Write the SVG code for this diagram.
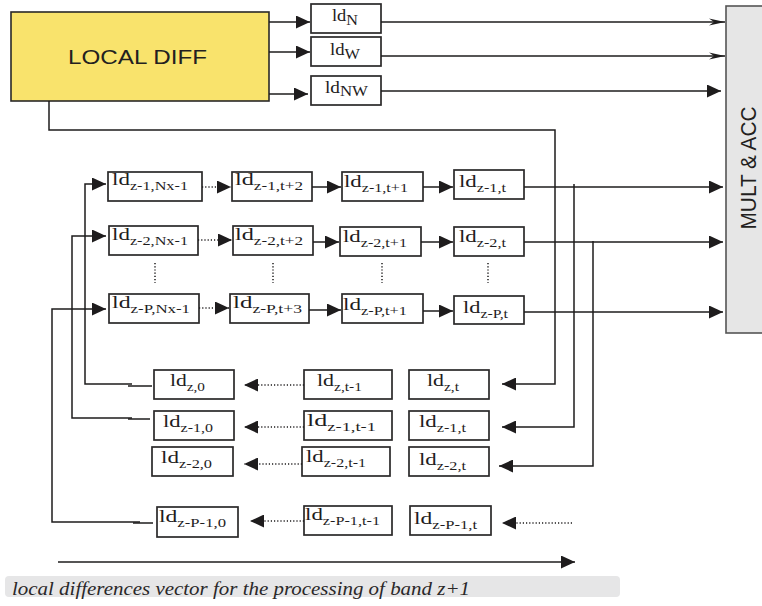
<svg xmlns="http://www.w3.org/2000/svg" width="762" height="606" viewBox="0 0 762 606">
  <defs>
    <marker id="tri" markerUnits="userSpaceOnUse" markerWidth="14" markerHeight="13" refX="14" refY="6.5" orient="auto">
      <path d="M0,0 L14,6.5 L0,13 Z" fill="#1e1c1d"/>
    </marker>
    <marker id="barb" markerUnits="userSpaceOnUse" markerWidth="16" markerHeight="8" refX="16" refY="4" orient="auto">
      <path d="M0,0.5 L16,4 L0,7.5 L5,4 Z" fill="#1e1c1d"/>
    </marker>
    <style>
      .box { fill: #ffffff; stroke: #2a2829; stroke-width: 1.7; }
      .ln { fill: none; stroke: #1e1c1d; stroke-width: 1.5; }
      .arr { marker-end: url(#tri); }
      .barb { marker-end: url(#barb); }
      .dot { stroke-dasharray: 1.2 2; }
      .ld { font-family: "Liberation Serif", "Times New Roman", serif; font-size: 17px; fill: #1e1c1d; }
      .sub { font-size: 12px; }
      .top { font-size: 16px; }
      .tsub { font-size: 14px; }
      .sans { font-family: "Liberation Sans", Arial, sans-serif; font-size: 20px; fill: #231f20; }
    </style>
  </defs>

  <rect width="762" height="606" fill="#ffffff"/>

  <!-- source and sink blocks -->
  <g id="local-diff">
    <rect x="11" y="12" width="258" height="89" fill="#f9e36c" stroke="#2a2829" stroke-width="1.6"/>
    <text class="sans" x="68" y="64" textLength="139" lengthAdjust="spacingAndGlyphs">LOCAL DIFF</text>
  </g>
  <g id="mult-acc">
    <rect x="726" y="6" width="44" height="327" fill="#e6e6e6" stroke="#555555" stroke-width="1.6"/>
    <text class="sans" text-anchor="middle" transform="translate(756,168) rotate(-90) scale(1,1.1)" textLength="123" lengthAdjust="spacingAndGlyphs">MULT &amp; ACC</text>
  </g>

  <!-- directional differences -->
  <g id="ld-n">
    <rect class="box" x="311" y="4" width="70" height="29"/>
    <text class="ld top" x="332" y="21" textLength="26" lengthAdjust="spacingAndGlyphs">ld<tspan class="tsub" dy="4">N</tspan></text>
  </g>
  <g id="ld-w">
    <rect class="box" x="311" y="37" width="70" height="29"/>
    <text class="ld top" x="330" y="55" textLength="30" lengthAdjust="spacingAndGlyphs">ld<tspan class="tsub" dy="4">W</tspan></text>
  </g>
  <g id="ld-nw">
    <rect class="box" x="311" y="76" width="70" height="29"/>
    <text class="ld top" x="325" y="93" textLength="43" lengthAdjust="spacingAndGlyphs">ld<tspan class="tsub" dy="3">NW</tspan></text>
  </g>

  <!-- central local differences, band z-1 -->
  <g id="r1-c1"><rect class="box" x="108" y="172" width="94" height="29"/>
    <text class="ld" x="112" y="185" textLength="76" lengthAdjust="spacingAndGlyphs">ld<tspan class="sub" dy="5">z-1,Nx-1</tspan></text></g>
  <g id="r1-c2"><rect class="box" x="232" y="172" width="80" height="29"/>
    <text class="ld" x="235" y="185" textLength="68" lengthAdjust="spacingAndGlyphs">ld<tspan class="sub" dy="5">z-1,t+2</tspan></text></g>
  <g id="r1-c3"><rect class="box" x="342" y="172" width="81" height="29"/>
    <text class="ld" x="344" y="187" textLength="64" lengthAdjust="spacingAndGlyphs">ld<tspan class="sub" dy="5">z-1,t+1</tspan></text></g>
  <g id="r1-c4"><rect class="box" x="454" y="170" width="70" height="29"/>
    <text class="ld" x="459" y="187" textLength="47" lengthAdjust="spacingAndGlyphs">ld<tspan class="sub" dy="5">z-1,t</tspan></text></g>

  <!-- band z-2 -->
  <g id="r2-c1"><rect class="box" x="109" y="226" width="89" height="29"/>
    <text class="ld" x="112" y="240" textLength="76" lengthAdjust="spacingAndGlyphs">ld<tspan class="sub" dy="5">z-2,Nx-1</tspan></text></g>
  <g id="r2-c2"><rect class="box" x="233" y="226" width="80" height="29"/>
    <text class="ld" x="235" y="240" textLength="68" lengthAdjust="spacingAndGlyphs">ld<tspan class="sub" dy="5">z-2,t+2</tspan></text></g>
  <g id="r2-c3"><rect class="box" x="340" y="227" width="81" height="29"/>
    <text class="ld" x="343" y="242" textLength="64" lengthAdjust="spacingAndGlyphs">ld<tspan class="sub" dy="5">z-2,t+1</tspan></text></g>
  <g id="r2-c4"><rect class="box" x="454" y="227" width="70" height="29"/>
    <text class="ld" x="459" y="242" textLength="47" lengthAdjust="spacingAndGlyphs">ld<tspan class="sub" dy="5">z-2,t</tspan></text></g>

  <!-- band z-P -->
  <g id="r3-c1"><rect class="box" x="109" y="294" width="90" height="29"/>
    <text class="ld" x="112" y="308" textLength="78" lengthAdjust="spacingAndGlyphs">ld<tspan class="sub" dy="5">z-P,Nx-1</tspan></text></g>
  <g id="r3-c2"><rect class="box" x="230" y="294" width="79" height="29"/>
    <text class="ld" x="233" y="308" textLength="69" lengthAdjust="spacingAndGlyphs">ld<tspan class="sub" dy="5">z-P,t+3</tspan></text></g>
  <g id="r3-c3"><rect class="box" x="342" y="294" width="81" height="29"/>
    <text class="ld" x="343" y="310" textLength="64" lengthAdjust="spacingAndGlyphs">ld<tspan class="sub" dy="5">z-P,t+1</tspan></text></g>
  <g id="r3-c4"><rect class="box" x="454" y="296" width="70" height="28"/>
    <text class="ld" x="463" y="313" textLength="45" lengthAdjust="spacingAndGlyphs">ld<tspan class="sub" dy="5">z-P,t</tspan></text></g>

  <!-- vector for the next band -->
  <g id="n0-c1"><rect class="box" x="154" y="370" width="80" height="29"/>
    <text class="ld" x="170" y="386" textLength="35" lengthAdjust="spacingAndGlyphs">ld<tspan class="sub" dy="5">z,0</tspan></text></g>
  <g id="n0-c2"><rect class="box" x="304" y="370" width="88" height="29"/>
    <text class="ld" x="317" y="386" textLength="45" lengthAdjust="spacingAndGlyphs">ld<tspan class="sub" dy="5">z,t-1</tspan></text></g>
  <g id="n0-c3"><rect class="box" x="409" y="370" width="80" height="29"/>
    <text class="ld" x="427" y="386" textLength="32" lengthAdjust="spacingAndGlyphs">ld<tspan class="sub" dy="5">z,t</tspan></text></g>

  <g id="n1-c1"><rect class="box" x="154" y="411" width="80" height="29"/>
    <text class="ld" x="163" y="427" textLength="50" lengthAdjust="spacingAndGlyphs">ld<tspan class="sub" dy="5">z-1,0</tspan></text></g>
  <g id="n1-c2"><rect class="box" x="304" y="411" width="88" height="29"/>
    <text class="ld" x="307" y="426" textLength="69" lengthAdjust="spacingAndGlyphs">ld<tspan class="sub" dy="5">z-1,t-1</tspan></text></g>
  <g id="n1-c3"><rect class="box" x="409" y="411" width="80" height="29"/>
    <text class="ld" x="419" y="427" textLength="47" lengthAdjust="spacingAndGlyphs">ld<tspan class="sub" dy="5">z-1,t</tspan></text></g>

  <g id="n2-c1"><rect class="box" x="152" y="447" width="81" height="29"/>
    <text class="ld" x="161" y="463" textLength="51" lengthAdjust="spacingAndGlyphs">ld<tspan class="sub" dy="5">z-2,0</tspan></text></g>
  <g id="n2-c2"><rect class="box" x="302" y="447" width="88" height="29"/>
    <text class="ld" x="306" y="462" textLength="60" lengthAdjust="spacingAndGlyphs">ld<tspan class="sub" dy="5">z-2,t-1</tspan></text></g>
  <g id="n2-c3"><rect class="box" x="409" y="447" width="80" height="29"/>
    <text class="ld" x="419" y="465" textLength="47" lengthAdjust="spacingAndGlyphs">ld<tspan class="sub" dy="5">z-2,t</tspan></text></g>

  <g id="n3-c1"><rect class="box" x="157" y="507" width="81" height="30"/>
    <text class="ld" x="159" y="522" textLength="67" lengthAdjust="spacingAndGlyphs">ld<tspan class="sub" dy="5">z-P-1,0</tspan></text></g>
  <g id="n3-c2"><rect class="box" x="304" y="506" width="88" height="29"/>
    <text class="ld" x="305" y="520" textLength="75" lengthAdjust="spacingAndGlyphs">ld<tspan class="sub" dy="5">z-P-1,t-1</tspan></text></g>
  <g id="n3-c3"><rect class="box" x="410" y="506" width="81" height="29"/>
    <text class="ld" x="414" y="524" textLength="63" lengthAdjust="spacingAndGlyphs">ld<tspan class="sub" dy="5">z-P-1,t</tspan></text></g>

  <!-- connectors -->
  <g id="connectors" class="ln">
    <!-- LOCAL DIFF to directional registers -->
    <path class="arr" d="M269,22 H310"/>
    <path class="arr" d="M269,52 H310"/>
    <path class="arr" d="M269,94 H308"/>
    <path class="barb" d="M381,22 H725"/>
    <path class="barb" d="M381,56 H725"/>
    <path class="arr" d="M381,91 H721"/>
    <!-- new central difference into the next-band vector -->
    <path class="arr" d="M49,101 V130 H555 V384 H502"/>

    <!-- shift chains -->
    <path class="arr dot" d="M202,187 H231"/>
    <path class="arr" d="M312,187 H341"/>
    <path class="arr" d="M423,187 H453"/>
    <path class="arr" d="M524,187 H723"/>

    <path class="arr dot" d="M198,240 H232"/>
    <path class="arr" d="M313,242 H339"/>
    <path class="arr" d="M421,242 H453"/>
    <path class="arr" d="M524,242 H723"/>

    <path class="arr dot" d="M199,308 H229"/>
    <path class="arr" d="M309,310 H341"/>
    <path class="arr" d="M423,311 H453"/>
    <path class="arr" d="M524,312 H723"/>

    <path class="dot" d="M155,263 V283 M273,263 V283 M382,263 V283 M488,263 V283"/>

    <!-- taps from band outputs into the next-band vector -->
    <path class="arr" d="M574,184 V427 H502"/>
    <path class="arr" d="M593,241 V466 H499"/>

    <!-- next-band vector back into the chains -->
    <path d="M152,386 H128"/>
    <path class="arr" d="M132,384 H85 V184 H106"/>
    <path d="M150,419 H128"/>
    <path class="arr" d="M132,418 H72 V236 H106"/>
    <path d="M153,523 H133"/>
    <path class="arr" d="M140,522 H52 V309 H106"/>

    <!-- shifting inside the next-band vector -->
    <path class="arr dot" d="M304,385 H244"/>
    <path class="arr dot" d="M304,427 H244"/>
    <path class="arr dot" d="M302,464 H244"/>
    <path class="arr dot" d="M304,521 H250"/>
    <path class="arr dot" d="M572,523 H502"/>

    <!-- direction of the vector -->
    <path class="arr" d="M58,562 H575"/>
  </g>

  <!-- caption -->
  <g id="caption">
    <rect x="5" y="576" width="615" height="21" rx="4" fill="#e6e6e7"/>
    <text x="12" y="595" font-family="'Liberation Serif', 'Times New Roman', serif" font-style="italic" font-size="18" fill="#2a2829" textLength="458" lengthAdjust="spacingAndGlyphs">local differences vector for the processing of band z+1</text>
  </g>
</svg>
